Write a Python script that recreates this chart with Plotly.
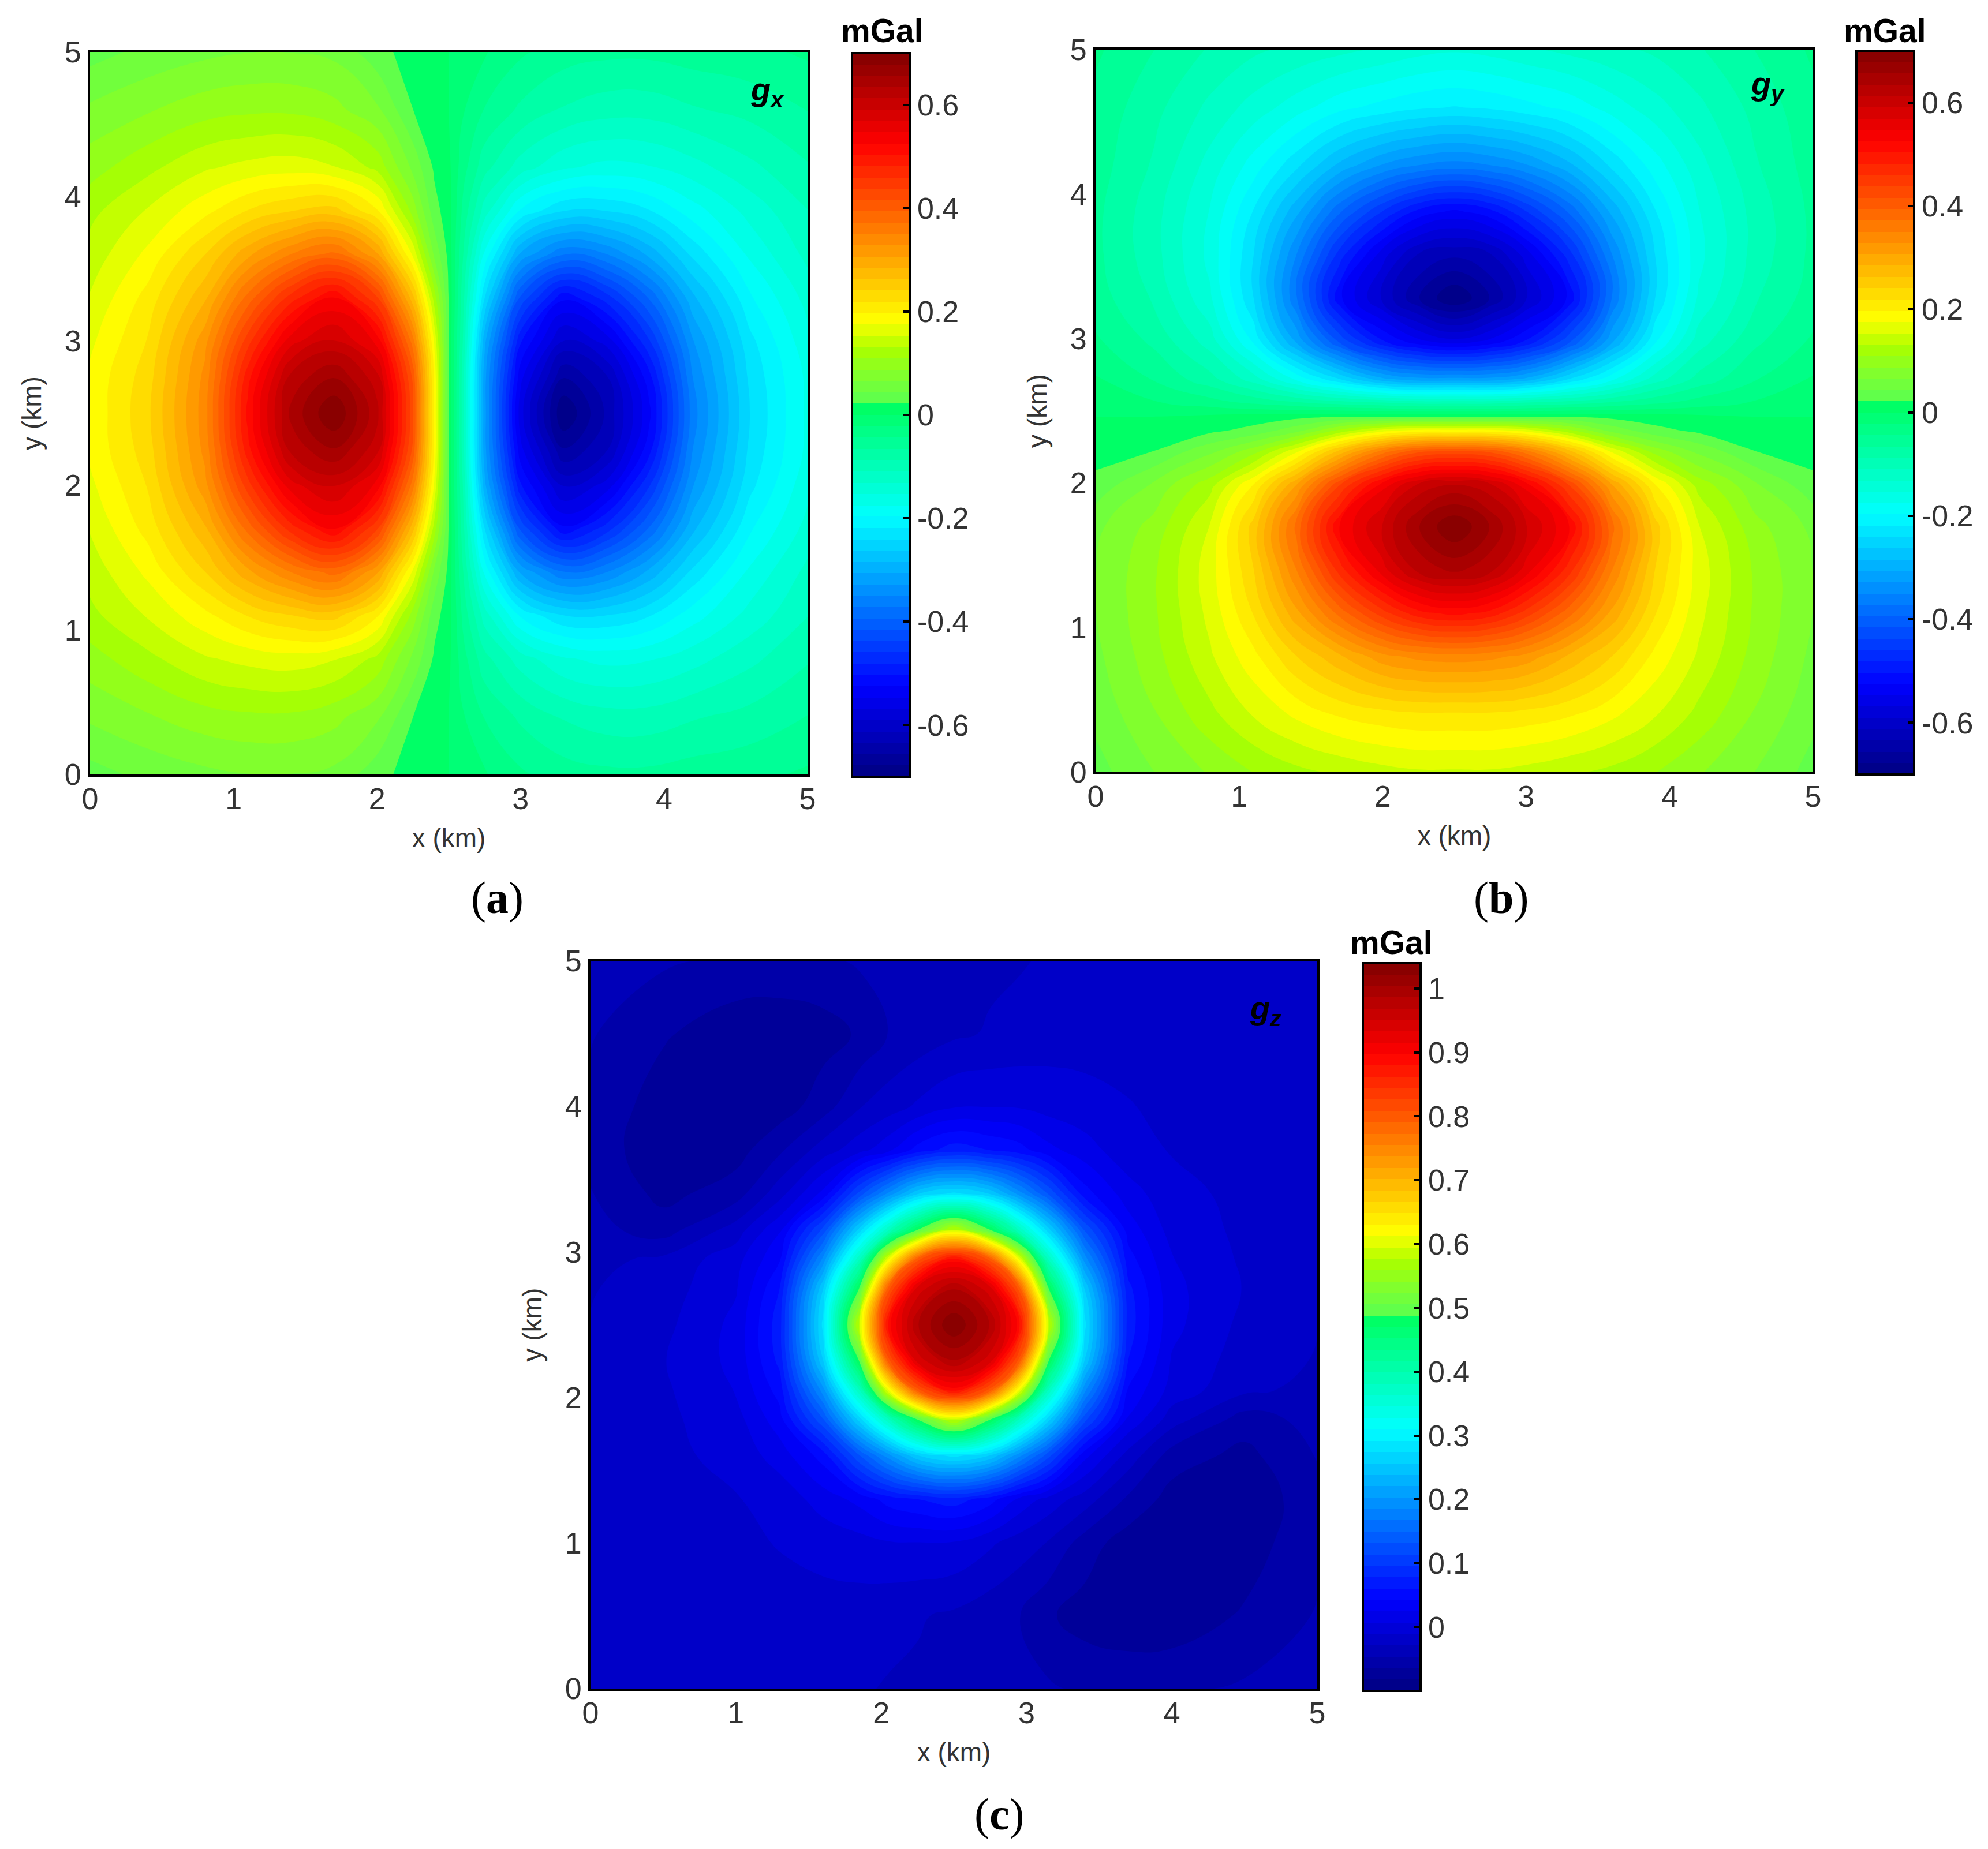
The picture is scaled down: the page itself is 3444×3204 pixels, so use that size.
import plotly.graph_objects as go

W = 3444
H = 3204

# grid nodes (km), values in mGal
gx_x = [0, .4, .8, 1.1, 1.4, 1.7, 2.0, 2.25, 2.4, 2.5, 2.6, 2.75, 3.0, 3.3, 3.6, 3.9, 4.2, 4.6, 5]
gx_y = [0, .4, .8, 1.1, 1.4, 1.7, 2.0, 2.25, 2.5, 2.75, 3.0, 3.3, 3.6, 3.9, 4.2, 4.6, 5]
gx_z = [
    [.035, .05, .06, .065, .065, .06, .03, .012, .005, 0, -.01, -.02, -.04, -.055, -.06, -.06, -.055, -.05, -.04],
    [.07, .085, .10, .105, .105, .095, .07, .022, .012, 0, -.02, -.045, -.07, -.09, -.10, -.10, -.09, -.08, -.065],
    [.10, .125, .15, .16, .165, .155, .125, .06, .018, .005, -.035, -.08, -.12, -.15, -.16, -.155, -.14, -.115, -.09],
    [.125, .155, .19, .22, .24, .25, .20, .10, .03, .01, -.05, -.12, -.20, -.24, -.24, -.22, -.185, -.145, -.11],
    [.14, .18, .24, .30, .35, .38, .31, .17, .06, .015, -.065, -.18, -.31, -.37, -.35, -.30, -.235, -.17, -.125],
    [.155, .205, .28, .38, .47, .525, .44, .27, .12, .02, -.08, -.24, -.42, -.52, -.47, -.39, -.29, -.20, -.145],
    [.17, .22, .32, .45, .56, .595, .54, .36, .17, .02, -.09, -.30, -.50, -.595, -.56, -.46, -.33, -.225, -.16],
    [.18, .23, .335, .495, .62, .655, .60, .41, .19, .02, -.10, -.32, -.54, -.655, -.615, -.51, -.35, -.235, -.17],
    [.18, .235, .34, .51, .64, .70, .62, .42, .19, .02, -.10, -.32, -.56, -.70, -.63, -.53, -.36, -.24, -.17],
    [.18, .23, .335, .495, .62, .655, .60, .41, .19, .02, -.10, -.32, -.54, -.655, -.615, -.51, -.35, -.235, -.17],
    [.17, .22, .32, .45, .56, .595, .54, .36, .17, .02, -.09, -.30, -.50, -.595, -.56, -.46, -.33, -.225, -.16],
    [.155, .205, .28, .38, .47, .525, .44, .27, .12, .02, -.08, -.24, -.42, -.52, -.47, -.39, -.29, -.20, -.145],
    [.14, .18, .24, .30, .35, .38, .31, .17, .06, .015, -.065, -.18, -.31, -.37, -.35, -.30, -.235, -.17, -.125],
    [.125, .155, .19, .22, .24, .25, .20, .10, .03, .01, -.05, -.12, -.20, -.24, -.24, -.22, -.185, -.145, -.11],
    [.10, .125, .15, .16, .165, .155, .125, .06, .018, .005, -.035, -.08, -.12, -.15, -.16, -.155, -.14, -.115, -.09],
    [.07, .085, .10, .105, .105, .095, .07, .022, .012, 0, -.02, -.045, -.07, -.09, -.10, -.10, -.09, -.08, -.065],
    [.035, .05, .06, .065, .065, .06, .03, .012, .005, 0, -.01, -.02, -.04, -.055, -.06, -.06, -.055, -.05, -.04],
]

gy_x = [0, .4, .8, 1.1, 1.4, 1.7, 2.0, 2.25, 2.5, 2.75, 3.0, 3.3, 3.6, 3.9, 4.2, 4.6, 5]
gy_y = [0, .4, .8, 1.1, 1.4, 1.7, 1.98, 2.22, 2.36, 2.46, 2.56, 2.72, 2.98, 3.28, 3.58, 3.88, 4.2, 4.6, 5]
gy_z = [
    [.035, .065, .09, .11, .125, .135, .145, .15, .15, .15, .145, .135, .125, .11, .09, .065, .035],
    [.05, .085, .125, .155, .18, .20, .21, .215, .215, .215, .21, .20, .18, .155, .125, .085, .05],
    [.06, .10, .15, .19, .24, .28, .32, .335, .34, .335, .32, .28, .24, .19, .15, .10, .06],
    [.065, .105, .16, .22, .30, .38, .45, .495, .51, .495, .45, .38, .30, .22, .16, .105, .065],
    [.065, .105, .165, .24, .35, .47, .56, .62, .64, .62, .56, .47, .35, .24, .165, .105, .065],
    [.06, .095, .155, .25, .38, .525, .595, .655, .70, .655, .595, .525, .38, .25, .155, .095, .06],
    [.03, .07, .125, .20, .31, .44, .54, .60, .62, .60, .54, .44, .31, .20, .125, .07, .03],
    [.012, .022, .06, .10, .17, .27, .36, .41, .42, .41, .36, .27, .17, .10, .06, .022, .012],
    [.005, .012, .018, .03, .06, .12, .17, .19, .19, .19, .17, .12, .06, .03, .018, .012, .005],
    [0, 0, .005, .01, .015, .02, .02, .02, .02, .02, .02, .02, .015, .01, .005, 0, 0],
    [-.01, -.02, -.035, -.05, -.065, -.08, -.09, -.10, -.10, -.10, -.09, -.08, -.065, -.05, -.035, -.02, -.01],
    [-.02, -.045, -.08, -.12, -.18, -.24, -.30, -.32, -.32, -.32, -.30, -.24, -.18, -.12, -.08, -.045, -.02],
    [-.04, -.07, -.12, -.20, -.31, -.42, -.50, -.54, -.56, -.54, -.50, -.42, -.31, -.20, -.12, -.07, -.04],
    [-.055, -.09, -.15, -.24, -.37, -.52, -.595, -.655, -.70, -.655, -.595, -.52, -.37, -.24, -.15, -.09, -.055],
    [-.06, -.10, -.16, -.24, -.35, -.47, -.56, -.615, -.63, -.615, -.56, -.47, -.35, -.24, -.16, -.10, -.06],
    [-.06, -.10, -.155, -.22, -.30, -.39, -.46, -.51, -.53, -.51, -.46, -.39, -.30, -.22, -.155, -.10, -.06],
    [-.055, -.09, -.14, -.185, -.235, -.29, -.33, -.35, -.36, -.35, -.33, -.29, -.235, -.185, -.14, -.09, -.055],
    [-.05, -.08, -.115, -.14, -.165, -.19, -.205, -.215, -.22, -.215, -.205, -.19, -.165, -.14, -.115, -.08, -.05],
    [-.04, -.065, -.09, -.105, -.115, -.125, -.135, -.145, -.15, -.145, -.135, -.125, -.115, -.105, -.09, -.065, -.04],
]

gz_x = [0, .5, 1, 1.3, 1.6, 1.85, 2.05, 2.25, 2.5, 2.75, 2.95, 3.15, 3.4, 3.7, 4, 4.5, 5]
gz_y = [0, .5, 1, 1.3, 1.6, 1.85, 2.05, 2.25, 2.5, 2.75, 2.95, 3.15, 3.4, 3.7, 4, 4.5, 5]
gz_z = [
    [-.02, -.02, -.02, -.02, -.022, -.027, -.03, -.032, -.035, -.04, -.043, -.044, -.05, -.05, -.05, -.044, -.04],
    [-.02, -.02, -.018, -.018, -.018, -.02, -.024, -.027, -.032, -.04, -.046, -.062, -.072, -.078, -.076, -.062, -.045],
    [-.02, -.02, -.015, -.01, -.005, 0, .005, .006, .005, -.008, -.02, -.03, -.055, -.074, -.082, -.074, -.05],
    [-.02, -.018, -.012, -.005, .015, .03, .05, .06, .07, .05, .02, 0, -.02, -.05, -.072, -.075, -.055],
    [-.02, -.016, -.005, .015, .05, .13, .195, .255, .28, .255, .19, .12, .03, -.018, -.055, -.07, -.045],
    [-.02, -.015, 0, .035, .13, .265, .38, .49, .59, .49, .38, .265, .12, .022, -.02, -.055, -.04],
    [-.021, -.014, .008, .05, .195, .38, .61, .80, .89, .80, .61, .38, .19, .04, 0, -.025, -.034],
    [-.022, -.012, .012, .065, .255, .49, .80, .94, .985, .94, .80, .49, .255, .06, .005, -.02, -.03],
    [-.028, -.016, .012, .07, .28, .59, .89, .985, 1.04, .985, .89, .59, .28, .07, .012, -.016, -.028],
    [-.03, -.02, .005, .06, .255, .49, .80, .94, .985, .94, .80, .49, .255, .065, .012, -.012, -.022],
    [-.034, -.025, 0, .04, .19, .38, .61, .80, .89, .80, .61, .38, .195, .05, .008, -.014, -.021],
    [-.04, -.055, -.02, .022, .12, .265, .38, .49, .59, .49, .38, .265, .13, .035, 0, -.015, -.02],
    [-.045, -.07, -.055, -.018, .03, .12, .19, .255, .28, .255, .195, .13, .05, .015, -.005, -.016, -.02],
    [-.055, -.075, -.072, -.05, -.02, 0, .02, .05, .07, .06, .05, .03, .015, -.005, -.012, -.018, -.02],
    [-.05, -.074, -.082, -.074, -.055, -.03, -.02, -.008, .005, .006, .005, 0, -.005, -.01, -.015, -.02, -.02],
    [-.045, -.062, -.076, -.078, -.072, -.062, -.046, -.04, -.032, -.027, -.024, -.02, -.018, -.018, -.018, -.02, -.02],
    [-.04, -.044, -.05, -.05, -.05, -.044, -.043, -.04, -.035, -.032, -.03, -.027, -.022, -.02, -.02, -.02, -.02],
]

xy_ticks = [0, 1, 2, 3, 4, 5]
g_ticks = [-.6, -.4, -.2, 0, .2, .4, .6]
g_labels = ["-0.6", "-0.4", "-0.2", "0", "0.2", "0.4", "0.6"]
gz_ticks = [0, .1, .2, .3, .4, .5, .6, .7, .8, .9, 1]
gz_labels = ["0", "0.1", "0.2", "0.3", "0.4", "0.5", "0.6", "0.7", "0.8", "0.9", "1"]

# the jet of the figure, with the jump just above the middle
jet = [
    [0, "rgb(0,0,130)"], [.125, "rgb(0,0,255)"], [.36, "rgb(0,255,255)"],
    [.51, "rgb(0,255,100)"], [.512, "rgb(85,255,85)"], [.56, "rgb(135,255,40)"],
    [.59, "rgb(170,255,0)"], [.63, "rgb(255,255,0)"], [.875, "rgb(255,0,0)"], [1, "rgb(130,0,0)"],
]

TICKFONT = dict(family="Liberation Sans, Arial", size=52, color="#333333")
TITLEFONT = dict(family="Liberation Sans, Arial", size=46, color="#333333")
BAR_WIDTH = 100


def px(x):
    return x / W


def py(y):
    return 1 - y / H


def contour(x, y, z, zmin, zmax, ticks, labels, axis, bar):
    left, top, bottom = bar
    return go.Contour(
        x=x, y=y, z=z, xaxis="x" + axis, yaxis="y" + axis,
        colorscale=jet, zmin=zmin, zmax=zmax, autocontour=False,
        contours=dict(start=zmin, end=zmax, size=(zmax - zmin) / 64, coloring="fill", showlines=False),
        line=dict(width=0, smoothing=1.3),
        colorbar=dict(
            x=px(left), xanchor="left", xpad=0, y=py(top), yanchor="top", ypad=0,
            len=(bottom - top) / H, lenmode="fraction", thickness=BAR_WIDTH, thicknessmode="pixels",
            outlinecolor="black", outlinewidth=4, bgcolor="rgba(0,0,0,0)",
            ticks="inside", ticklen=13, tickwidth=4, tickcolor="black",
            tickvals=ticks, ticktext=labels, tickfont=TICKFONT,
        ),
    )


def left_ticks(zmin, zmax, ticks, bar):
    # the colorbar only ticks its right edge, the original ticks both
    left, top, bottom = bar
    out = []
    for v in ticks:
        y = bottom - (v - zmin) / (zmax - zmin) * (bottom - top)
        out.append(dict(type="line", xref="paper", yref="paper", x0=px(left), x1=px(left + 13),
                        y0=py(y), y1=py(y), line=dict(color="black", width=4)))
    return out


BAR_A = (1476, 92, 1346)
BAR_B = (3216, 88, 1342)
BAR_C = (2361, 1669, 2930)

fig = go.Figure()
fig.add_trace(contour(gx_x, gx_y, gx_z, -.7, .7, g_ticks, g_labels, "", BAR_A))
fig.add_trace(contour(gy_x, gy_y, gy_z, -.7, .7, g_ticks, g_labels, "2", BAR_B))
fig.add_trace(contour(gz_x, gz_y, gz_z, -.1, 1.04, gz_ticks, gz_labels, "3", BAR_C))


def axes(xr, yr):
    common = dict(
        range=[0, 5], tickvals=xy_ticks, ticks="", showgrid=False, zeroline=False, automargin=False,
        showline=True, linecolor="black", linewidth=4, mirror=True, tickfont=TICKFONT,
    )
    xa = dict(common, domain=[px(xr[0]), px(xr[1])], ticklabelstandoff=-6,
              title=dict(text="x (km)", font=TITLEFONT, standoff=24))
    ya = dict(common, domain=[py(yr[1]), py(yr[0])], ticklabelstandoff=1,
              title=dict(text="y (km)", font=TITLEFONT, standoff=27))
    return xa, ya


xa1, ya1 = axes((156, 1399), (90, 1342))
xa2, ya2 = axes((1898, 3141), (86, 1338))
xa3, ya3 = axes((1023, 2282), (1665, 2926))
xa1["anchor"], ya1["anchor"] = "y", "x"
xa2["anchor"], ya2["anchor"] = "y2", "x2"
xa3["anchor"], ya3["anchor"] = "y3", "x3"


def note(text, x, y, size, family, color="black"):
    return dict(text=text, x=px(x), y=py(y), xref="paper", yref="paper", showarrow=False,
                xanchor="center", yanchor="middle", font=dict(family=family, size=size, color=color))


SANS = "Liberation Sans, Arial"
SERIF = "Liberation Serif, Times New Roman"
notes = [
    note("<b>mGal</b>", 1528, 53, 57, SANS),
    note("<b>mGal</b>", 3265, 53, 57, SANS),
    note("<b>mGal</b>", 2410, 1633, 57, SANS),
    note("<b><i>g<sub>x</sub></i></b>", 1329, 158, 56, SANS),
    note("<b><i>g<sub>y</sub></i></b>", 3062, 149, 56, SANS),
    note("<b><i>g<sub>z</sub></i></b>", 2192, 1750, 56, SANS),
    note("(<b>a</b>)", 861, 1555, 78, SERIF),
    note("(<b>b</b>)", 2600, 1555, 78, SERIF),
    note("(<b>c</b>)", 1731, 3143, 78, SERIF),
]

fig.update_layout(
    width=W, height=H, margin=dict(l=0, r=0, t=0, b=0),
    paper_bgcolor="white", plot_bgcolor="white", showlegend=False,
    xaxis=xa1, yaxis=ya1, xaxis2=xa2, yaxis2=ya2, xaxis3=xa3, yaxis3=ya3,
    annotations=notes,
    shapes=left_ticks(-.7, .7, g_ticks, BAR_A) + left_ticks(-.7, .7, g_ticks, BAR_B)
    + left_ticks(-.1, 1.04, gz_ticks, BAR_C),
)

fig.write_html("out.html", config={"displayModeBar": False}, post_script="document.body.style.margin='0';")
